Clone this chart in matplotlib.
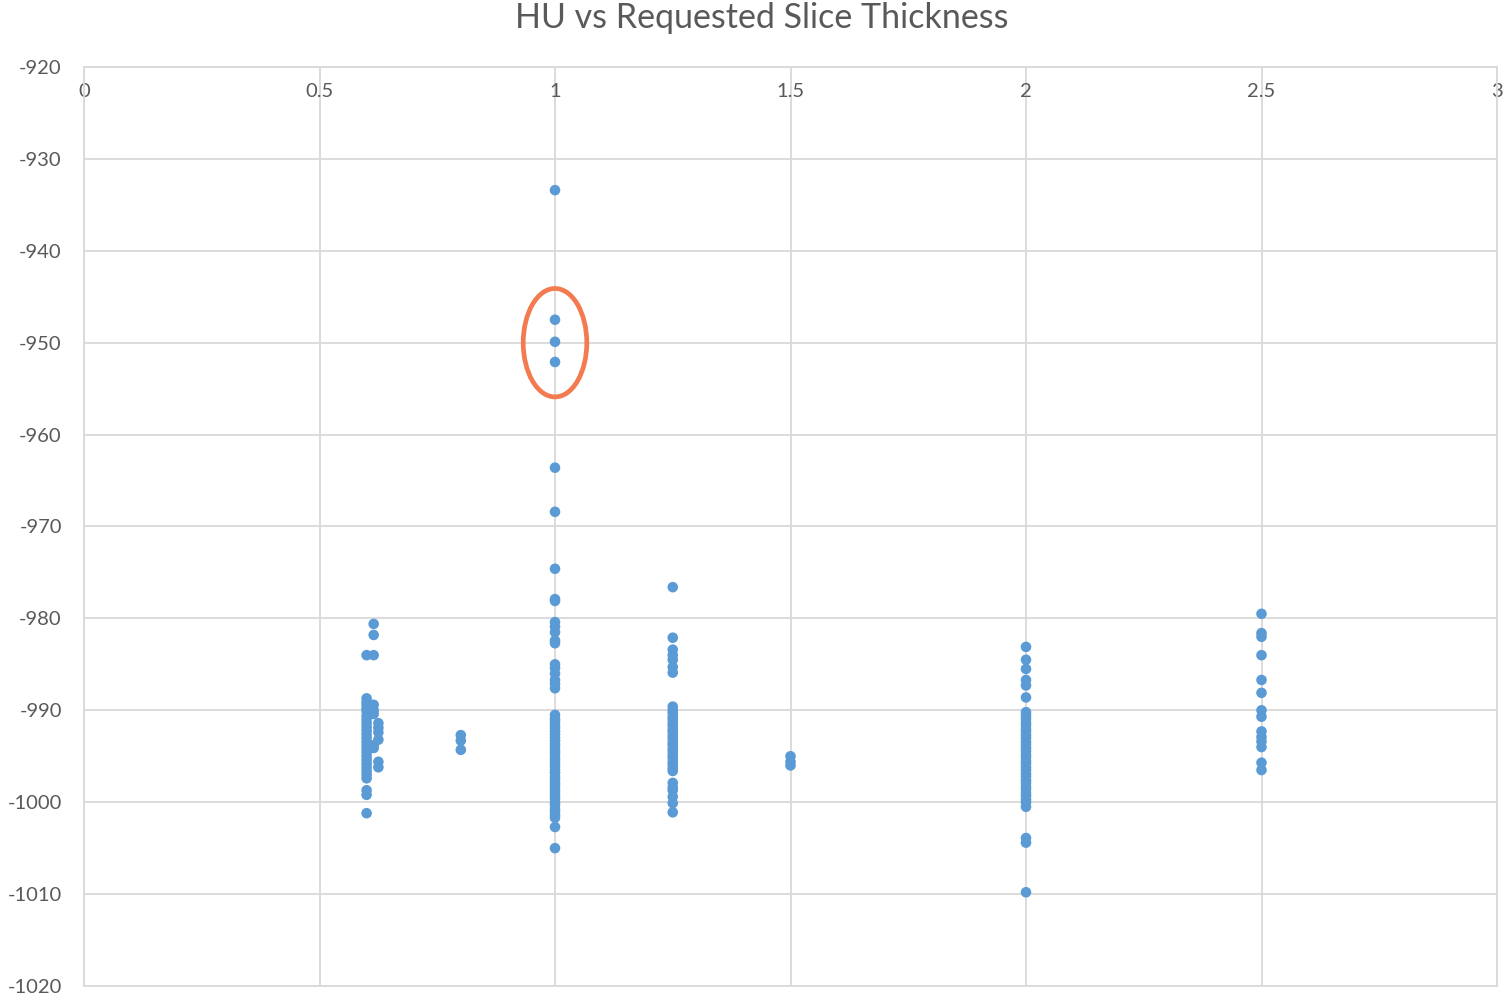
import matplotlib
matplotlib.use("Agg")
import matplotlib.pyplot as plt
from matplotlib.patches import Ellipse

plt.rcParams['font.family'] = ['Lato', 'DejaVu Sans']
plt.rcParams['axes.unicode_minus'] = False

# Requested slice thickness (mm) and measured HU for each scan
hu_060 = [-984.0, -988.7, -989.1, -989.4, -989.8, -990.1, -990.6, -991.0, -991.4,
          -991.8, -992.2, -992.6, -993.0, -993.4, -993.8, -994.2, -994.6, -995.0,
          -995.4, -995.8, -996.2, -996.6, -997.0, -997.4, -998.7, -999.2, -1001.2]
hu_0615 = [-980.6, -981.8, -984.0, -989.4, -990.0, -990.4, -993.8, -994.1]
hu_0625 = [-991.4, -991.9, -992.4, -993.2, -995.6, -996.2]
hu_080 = [-992.7, -993.3, -994.3]
hu_100 = [-933.4, -947.5, -949.9, -952.1, -963.6, -968.4, -974.6, -977.9, -978.1,
          -980.4, -980.9, -981.5, -982.4, -982.7, -985.0, -985.4, -986.0, -986.7,
          -987.1, -987.6, -990.5, -990.9, -991.2, -991.6, -991.9, -992.3, -992.6,
          -993.0, -993.3, -993.7, -994.0, -994.4, -994.7, -995.1, -995.4, -995.8,
          -996.1, -996.5, -996.8, -997.2, -997.5, -997.9, -998.2, -998.6, -998.9,
          -999.3, -999.6, -1000.0, -1000.3, -1000.7, -1001.0, -1001.4, -1001.7,
          -1002.7, -1005.0]
hu_125 = [-976.6, -982.1, -983.4, -984.0, -984.5, -985.3, -985.9, -989.6, -990.0,
          -990.3, -990.7, -991.0, -991.4, -991.7, -992.1, -992.4, -992.8, -993.1,
          -993.5, -993.8, -994.2, -994.5, -994.9, -995.2, -995.6, -995.9, -996.3,
          -996.6, -997.9, -998.4, -998.7, -999.4, -1000.1, -1001.1]
hu_150 = [-995.0, -995.6, -996.0]
hu_200 = [-983.1, -984.5, -985.5, -986.7, -987.3, -988.6, -990.2, -990.6, -990.9,
          -991.3, -991.6, -992.0, -992.3, -992.7, -993.0, -993.4, -993.7, -994.1,
          -994.4, -994.8, -995.1, -995.5, -995.8, -996.2, -996.5, -996.9, -997.2,
          -997.6, -997.9, -998.3, -998.6, -999.0, -999.3, -999.7, -1000.0, -1000.5,
          -1003.9, -1004.4, -1009.8]
hu_250 = [-979.5, -981.6, -982.0, -984.0, -986.7, -988.1, -990.0, -990.7, -992.3,
          -992.9, -993.4, -994.0, -995.7, -996.5]

groups = [(0.6, hu_060), (0.615, hu_0615), (0.625, hu_0625), (0.8, hu_080),
          (1.0, hu_100), (1.25, hu_125), (1.5, hu_150), (2.0, hu_200), (2.5, hu_250)]

x_ticks = [0, 0.5, 1, 1.5, 2, 2.5, 3]
x_tick_labels = ["0", "0.5", "1", "1.5", "2", "2.5", "3"]
y_ticks = [-920, -930, -940, -950, -960, -970, -980, -990, -1000, -1010, -1020]

thickness = [t for t, vals in groups for _ in vals]
hu = [v for _, vals in groups for v in vals]

fig = plt.figure(figsize=(15.09, 10.01), dpi=100)
ax = fig.add_axes([84 / 1509, 15 / 1001, 1413 / 1509, 919 / 1001])

grid_c = "#d9d9d9"
text_c = "#595959"

ax.scatter(thickness, hu, s=58, color="#5b9bd5", edgecolors="none", zorder=3)

# highlight the outlier group at 1 mm
ax.add_patch(Ellipse((1.0, -950.0), width=0.135, height=11.8, fill=False,
                     edgecolor="#f37b4f", linewidth=3.4, zorder=4))

ax.set_xlim(0, 3)
ax.set_ylim(-1020, -920)
ax.set_xticks(x_ticks)
ax.set_xticklabels(x_tick_labels)
ax.set_yticks(y_ticks)

ax.grid(True, color=grid_c, linewidth=1.3, zorder=0)
ax.set_axisbelow(True)
for side, sp in ax.spines.items():
    sp.set_color(grid_c)
    sp.set_linewidth(1.3)

ax.tick_params(axis='x', top=False, bottom=False, labeltop=True, labelbottom=False,
               pad=-24, labelsize=14.5, labelcolor=text_c, length=0)
ax.tick_params(axis='y', left=False, labelsize=14.5, labelcolor=text_c, length=0, pad=16)

fig.text(0.505, 0.982, "HU vs Requested Slice Thickness", ha="center", va="center",
         fontsize=24.5, color=text_c)

fig.savefig("out.png", dpi=100)
